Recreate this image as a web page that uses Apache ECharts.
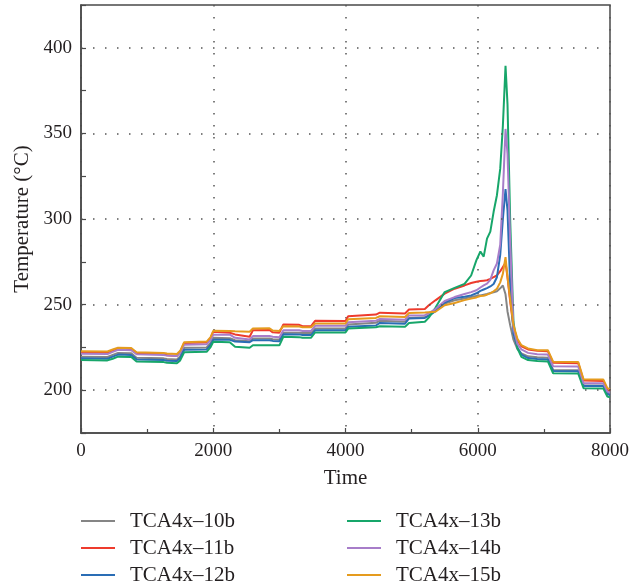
<!DOCTYPE html>
<html>
<head>
<meta charset="utf-8">
<script src="https://cdn.jsdelivr.net/npm/echarts@6/dist/echarts.min.js"></script>
<style>html,body{margin:0;padding:0;background:#fff;}#chart{width:632px;height:588px;}</style>
</head>
<body>
<div id="chart"></div>
<script>
const seriesNames = ['TCA4x\u201310b', 'TCA4x\u201311b', 'TCA4x\u201312b', 'TCA4x\u201313b', 'TCA4x\u201314b', 'TCA4x\u201315b'];
const seriesColors = ['#858585', '#ee3b2d', '#2a6db5', '#17a66a', '#a77dc9', '#e59b1e'];
const xTicks = [0, 2000, 4000, 6000, 8000];
const yTicks = [200, 250, 300, 350, 400];

const times = [0, 400, 480, 560, 760, 840, 1250, 1300, 1450, 1500, 1560, 1900, 1960, 2000, 2250, 2330, 2550, 2600, 2850, 2900, 3000, 3060, 3300, 3350, 3480, 3540, 4000, 4040, 4460, 4520, 4900, 4960, 5200, 5260, 5360, 5500, 5650, 5800, 5900, 5980, 6040, 6090, 6140, 6190, 6240, 6290, 6340, 6380, 6420, 6450, 6490, 6540, 6600, 6660, 6760, 6900, 7060, 7140, 7520, 7600, 7900, 7960, 8000];

const tca10b = [219.6, 219.4, 220.6, 221.8, 221.6, 219.0, 218.6, 218.2, 218.0, 219.8, 224.8, 225.0, 227.6, 230.6, 230.4, 229.2, 228.6, 230.2, 230.2, 229.8, 229.6, 233.5, 233.5, 233.4, 233.4, 236.0, 236.0, 238.4, 239.4, 240.6, 240.0, 242.2, 242.6, 243.8, 246.6, 250.6, 252.5, 253.6, 254.4, 255.0, 255.4, 255.8, 256.2, 256.8, 257.2, 257.8, 259.5, 261.2, 256.0, 246.0, 238.0, 229.5, 224.0, 221.5, 219.8, 219.2, 219.0, 211.8, 211.6, 202.9, 202.8, 198.3, 197.8];
const tca11b = [222.2, 222.0, 223.2, 224.2, 224.0, 221.8, 221.4, 220.4, 220.0, 222.4, 227.6, 227.8, 230.6, 234.2, 233.6, 232.6, 231.2, 235.0, 235.2, 233.8, 233.6, 238.4, 238.2, 237.4, 237.4, 240.5, 240.4, 243.2, 244.2, 245.3, 244.8, 247.1, 247.4, 249.6, 252.5, 256.4, 259.3, 261.2, 262.6, 263.4, 263.8, 264.0, 264.2, 265.0, 266.0, 267.0, 269.5, 272.0, 274.5, 266.0, 252.0, 237.0, 229.2, 225.6, 223.8, 223.0, 222.8, 216.0, 215.8, 205.6, 205.4, 200.2, 199.6];
const tca12b = [218.6, 218.4, 219.6, 220.8, 220.6, 218.0, 217.6, 217.2, 217.0, 218.8, 223.6, 223.8, 226.4, 229.4, 229.4, 228.4, 228.0, 229.2, 229.2, 228.8, 228.6, 232.7, 232.6, 232.2, 232.2, 235.0, 235.0, 237.0, 237.8, 239.3, 238.8, 241.9, 242.2, 243.4, 246.2, 251.2, 253.8, 254.6, 255.4, 256.6, 258.0, 258.8, 259.6, 260.6, 262.0, 266.0, 279.0, 300.0, 317.5, 305.0, 262.0, 233.0, 225.0, 220.8, 218.8, 218.2, 218.0, 211.2, 211.0, 202.5, 202.4, 197.8, 197.2];
const tca13b = [217.6, 217.4, 218.4, 219.6, 219.4, 216.8, 216.4, 216.0, 215.7, 217.4, 222.2, 222.4, 225.2, 228.3, 228.0, 225.4, 224.8, 226.3, 226.3, 226.2, 226.2, 231.2, 231.0, 230.7, 230.7, 233.7, 233.7, 236.0, 236.8, 237.4, 237.0, 239.3, 240.0, 242.4, 248.2, 257.3, 259.8, 262.1, 267.0, 276.0, 281.0, 278.0, 288.5, 292.6, 304.2, 313.9, 329.4, 354.5, 389.5, 367.0, 300.0, 240.0, 224.5, 219.5, 217.6, 217.0, 216.8, 209.9, 209.7, 201.2, 201.0, 196.3, 195.8];
const tca14b = [221.3, 221.1, 222.4, 223.6, 223.4, 221.0, 220.6, 220.2, 220.0, 221.8, 226.6, 226.8, 229.4, 232.4, 232.4, 230.6, 229.6, 231.6, 231.6, 231.2, 231.0, 235.0, 235.0, 234.6, 234.6, 237.6, 237.6, 239.7, 240.6, 241.6, 241.2, 243.6, 243.8, 245.0, 247.4, 252.1, 254.4, 256.2, 257.3, 258.4, 260.0, 261.2, 262.2, 264.5, 270.0, 274.0, 285.0, 315.0, 352.6, 338.0, 288.0, 236.0, 227.0, 223.8, 221.8, 221.0, 220.8, 214.0, 213.8, 204.1, 204.0, 199.2, 198.6];
const tca15b = [222.8, 222.6, 223.8, 224.8, 224.6, 222.2, 221.8, 221.4, 221.2, 223.0, 228.0, 228.4, 231.0, 234.7, 234.6, 234.4, 234.2, 236.0, 236.2, 234.8, 234.6, 237.4, 237.2, 236.8, 236.8, 239.0, 239.0, 241.4, 242.2, 243.2, 242.8, 245.1, 245.4, 245.6, 245.8, 249.6, 250.9, 252.6, 253.5, 254.2, 255.0, 255.2, 255.8, 256.6, 257.8, 259.3, 263.0, 268.0, 277.7, 266.0, 253.0, 238.0, 230.0, 226.3, 224.4, 223.4, 223.4, 216.6, 216.4, 206.4, 206.2, 201.2, 200.6];

const allValues = [tca10b, tca11b, tca12b, tca13b, tca14b, tca15b];

const FONT = 'Liberation Serif';
const TXT = '#231f20';
const AXIS = '#4a4a4a';
const GRID = '#555555';

const chart = echarts.init(document.getElementById('chart'), null, {renderer: 'canvas'});

const series = seriesNames.map((name, i) => ({
  name: name,
  type: 'line',
  data: times.map((t, j) => [t, allValues[i][j]]),
  showSymbol: false,
  symbol: 'none',
  lineStyle: {width: 2, color: seriesColors[i]},
  itemStyle: {color: seriesColors[i]},
  z: 3,
  animation: false
}));

series.unshift({
  name: '__grid',
  type: 'line',
  data: [],
  silent: true,
  z: 1,
  markLine: {
    silent: true,
    symbol: 'none',
    animation: false,
    label: {show: false},
    lineStyle: {color: GRID, width: 1.5, type: [1.5, 10.5]},
    data: yTicks.map(v => ({yAxis: v}))
  }
});

const legendCommon = {
  orient: 'vertical',
  top: 510,
  height: 120,
  padding: 0,
  icon: 'rect',
  itemWidth: 34,
  itemHeight: 2,
  itemGap: 5,
  selectedMode: false,
  textStyle: {fontFamily: FONT, fontSize: 21, color: TXT, lineHeight: 22, padding: [0, 0, 0, 10]}
};

chart.setOption({
  animation: false,
  backgroundColor: '#fff',
  grid: {left: 81, right: 21, top: 5, bottom: 155, show: true, borderColor: AXIS, borderWidth: 1.5, backgroundColor: 'transparent'},
  legend: [
    Object.assign({}, legendCommon, {left: 81, data: seriesNames.slice(0, 3)}),
    Object.assign({}, legendCommon, {left: 347, data: seriesNames.slice(3, 6)})
  ],
  xAxis: {
    type: 'value',
    min: xTicks[0],
    max: xTicks[xTicks.length - 1],
    interval: 2000,
    name: 'Time',
    nameLocation: 'middle',
    nameGap: 35,
    nameTextStyle: {fontFamily: FONT, fontSize: 21, color: TXT},
    axisLine: {show: true, lineStyle: {color: AXIS, width: 1.5}},
    axisTick: {show: true, inside: true, length: 5, lineStyle: {color: AXIS, width: 1.2}},
    minorTick: {show: true, splitNumber: 2, length: 4, lineStyle: {color: AXIS, width: 1.2}},
    axisLabel: {fontFamily: FONT, fontSize: 19, color: TXT, margin: 9, formatter: v => String(v)},
    splitLine: {show: true, lineStyle: {color: GRID, width: 1.5, type: [1.5, 10.5]}}
  },
  yAxis: {
    type: 'value',
    min: 175,
    max: 425,
    interval: 25,
    name: 'Temperature (\u00b0C)',
    nameLocation: 'middle',
    nameGap: 48,
    nameTextStyle: {fontFamily: FONT, fontSize: 21, color: TXT},
    axisLine: {show: true, lineStyle: {color: AXIS, width: 1.5}},
    axisTick: {show: true, inside: true, length: 5, lineStyle: {color: AXIS, width: 1.2}},
    axisLabel: {fontFamily: FONT, fontSize: 19, color: TXT, margin: 9,
      formatter: v => (yTicks.indexOf(v) >= 0 ? String(v) : '')},
    splitLine: {show: false}
  },
  series: series
});
</script>
</body>
</html>
